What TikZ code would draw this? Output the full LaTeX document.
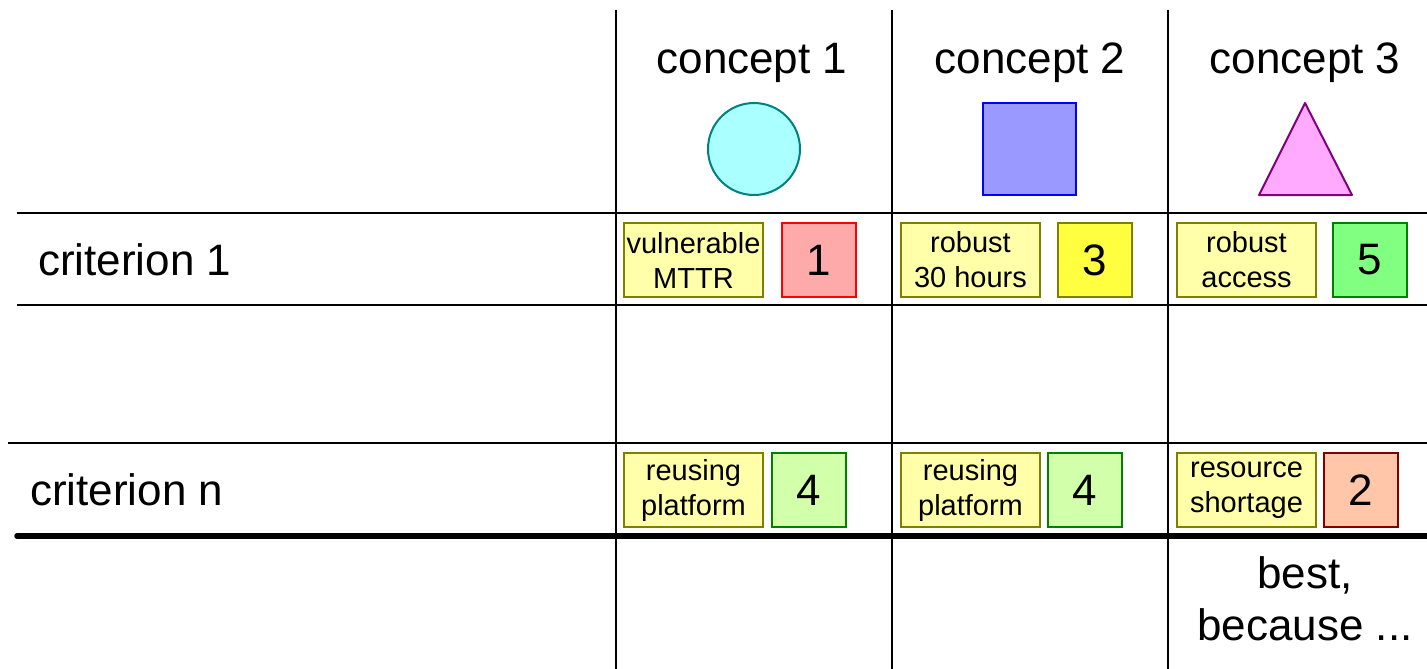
\documentclass[tikz,border=0pt]{standalone}
\usepackage{fontspec}
\setmainfont{Liberation Sans}
\definecolor{lblfill}{HTML}{FFFFAA}
\definecolor{olive}{HTML}{808000}
\definecolor{redfill}{HTML}{FFAAAA}
\definecolor{yelfill}{HTML}{FFFF40}
\definecolor{grnfill}{HTML}{80FF80}
\definecolor{dkgreen}{HTML}{008000}
\definecolor{ltgrnfill}{HTML}{D2FFAA}
\definecolor{orfill}{HTML}{FFC6AA}
\definecolor{dkred}{HTML}{800000}
\definecolor{cyanfill}{HTML}{AAFFFF}
\definecolor{teal}{HTML}{008080}
\definecolor{bluefill}{HTML}{9999FF}
\definecolor{pinkfill}{HTML}{FFAAFF}
\definecolor{purple}{HTML}{800080}
\tikzset{
  big/.style={font=\fontsize{44}{52}\selectfont, inner sep=0pt},
  lbl/.style={draw=olive, fill=lblfill, line width=2pt, minimum width=139pt, minimum height=74pt,
    inner sep=0pt, align=center, font=\fontsize{29}{35}\selectfont},
  score/.style={line width=2pt, minimum width=74pt, minimum height=74pt, inner sep=0pt,
    font=\fontsize{44}{52}\selectfont},
  grid/.style={line width=2pt, black},
}
\begin{document}
\begin{tikzpicture}[x=1pt,y=-1pt]
\useasboundingbox (0,0) rectangle (1427,669);
% grid
\draw[grid] (616,10) -- (616,669);
\draw[grid] (892,10) -- (892,669);
\draw[grid] (1168,10) -- (1168,669);
\draw[grid] (17,213) -- (1427,213);
\draw[grid] (17,305) -- (1427,305);
\draw[grid] (8,443) -- (1427,443);
\draw[line width=5.5pt, line cap=round] (17,536) -- (1427,536);
% headers
\node[big, anchor=base] (c1) at (752,74) {concept 1};
\node[big, anchor=base] (c2) at (1030,74) {concept 2};
\node[big, anchor=base] (c3) at (1305,74) {concept 3};
\node[big, anchor=base west] (r1) at (38,275) {criterion 1};
\node[big, anchor=base west] (rn) at (30,505) {criterion n};
% shapes
\node[circle, draw=teal, fill=cyanfill, line width=2pt, minimum size=92pt, inner sep=0pt] (circ) at (754,149) {};
\node[rectangle, draw=blue, fill=bluefill, line width=2pt, minimum width=93pt, minimum height=92pt, inner sep=0pt] (sq) at (1029.5,149) {};
\draw[draw=purple, fill=pinkfill, line width=2pt, line join=round] (1305,103) -- (1352,195) -- (1259,195) -- cycle;
% row 1
\node[lbl] (l11) at (693.5,260) {vulnerable\\MTTR};
\node[score, draw=red, fill=redfill] (s11) at (818.5,260) {1};
\node[lbl] (l12) at (970.5,260) {robust\\30 hours};
\node[score, draw=olive, fill=yelfill] (s12) at (1094.5,260) {3};
\node[lbl] (l13) at (1246.5,260) {robust\\access};
\node[score, draw=dkgreen, fill=grnfill] (s13) at (1370,260) {5};
% row n
\node[lbl] (ln1) at (693.5,490) {reusing\\platform};
\node[score, draw=dkgreen, fill=ltgrnfill] (sn1) at (809,490) {4};
\node[lbl] (ln2) at (970.5,490) {reusing\\platform};
\node[score, draw=dkgreen, fill=ltgrnfill] (sn2) at (1085,490) {4};
\node[lbl] (ln3) at (1246.5,490) {resource\\shortage};
\node[score, draw=dkred, fill=orfill] (sn3) at (1361,490) {2};
% verdict
\node[big, anchor=base] (b1) at (1305,588) {best,};
\node[big, anchor=base] (b2) at (1305,640) {because ...};
\end{tikzpicture}
\end{document}
